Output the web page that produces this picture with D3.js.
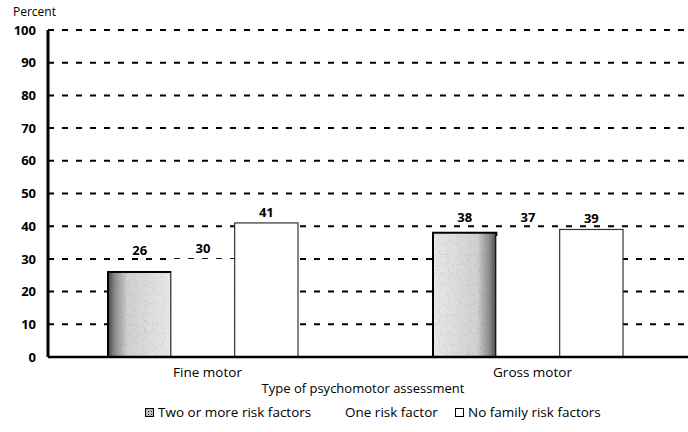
<!DOCTYPE html>
<html><head><meta charset="utf-8">
<script src="https://cdn.jsdelivr.net/npm/d3@7"></script>
<style>body{margin:0;background:#fff}svg{display:block}</style>
</head><body><svg id="c" width="688" height="432"></svg>
<script>
const categories = ["Fine motor", "Gross motor"];
const seriesNames = ["Two or more risk factors", "One risk factor", "No family risk factors"];
const twoOrMore = [26, 38];
const oneRisk = [30, 37];
const noFamily = [41, 39];
const yTicks = [0, 10, 20, 30, 40, 50, 60, 70, 80, 90, 100];
const yLabel = "Percent";
const xTitle = "Type of psychomotor assessment";

const svg = d3.select("#c");
const font = "'Open Sans', sans-serif";
const defs = svg.append("defs");
function grad(id, dir) {
  const g = defs.append("linearGradient").attr("id", id).attr("x1", dir ? "100%" : "0%").attr("x2", dir ? "0%" : "100%").attr("y1", "0%").attr("y2", "0%");
  g.append("stop").attr("offset", "0%").attr("stop-color", "#444");
  g.append("stop").attr("offset", "10%").attr("stop-color", "#888");
  g.append("stop").attr("offset", "30%").attr("stop-color", "#d0d0d0");
  g.append("stop").attr("offset", "100%").attr("stop-color", "#e8e8e8");
}
grad("g0", false); grad("g1", true);
const filt = defs.append("filter").attr("id", "noise").attr("x", 0).attr("y", 0).attr("width", "100%").attr("height", "100%");
filt.append("feTurbulence").attr("type", "fractalNoise").attr("baseFrequency", 0.9).attr("numOctaves", 1).attr("seed", 3).attr("result", "n");
filt.append("feColorMatrix").attr("in", "n").attr("type", "matrix")
  .attr("values", "0 0 0 0 0  0 0 0 0 0  0 0 0 0 0  0 0 0 2.2 -1.3");
filt.append("feComposite").attr("in2", "SourceGraphic").attr("operator", "in");
const pat = defs.append("pattern").attr("id", "leg").attr("width", 3).attr("height", 3).attr("patternUnits", "userSpaceOnUse");
pat.append("rect").attr("width", 3).attr("height", 3).attr("fill", "#bbb");
pat.append("rect").attr("width", 1).attr("height", 1).attr("fill", "#222");

const axisX = 48, plotRight = 688;
const y = d3.scaleLinear().domain([0, 100]).range([357, 30]);
const x0 = d3.scaleBand().domain(categories).range([40, 690]);
const x1 = d3.scaleBand().domain(seriesNames).range([68, 258]);

// gridlines
const gridVals = yTicks.filter(d => d > 0);
svg.append("g").selectAll("line").data(gridVals).join("line")
  .attr("x1", axisX).attr("x2", plotRight).attr("y1", d => y(d)).attr("y2", d => y(d))
  .attr("stroke", "#000").attr("stroke-width", 2).attr("stroke-dasharray", "6,8");

// bars
const data = categories.map((c, i) => ({c, i, vals: [twoOrMore[i], oneRisk[i], noFamily[i]]}));
const groups = svg.append("g").selectAll("g").data(data).join("g")
  .attr("transform", d => `translate(${x0(d.c)},0)`);
const cells = d => d.vals.map((v, k) => ({v, k, i: d.i}));
groups.selectAll("rect.bar").data(cells).join("rect").attr("class", "bar")
  .attr("x", d => x1(seriesNames[d.k]))
  .attr("y", d => y(d.v))
  .attr("width", x1.bandwidth())
  .attr("height", d => y(0) - y(d.v))
  .attr("fill", d => d.k === 0 ? `url(#g${d.i})` : "#fff")
  .attr("stroke", d => d.k === 1 ? "none" : (d.k === 0 ? "#000" : "#333"))
  .attr("stroke-width", d => d.k === 0 ? 2 : 1.2);
groups.selectAll("rect.tex").data(d => cells(d).filter(e => e.k === 0)).join("rect").attr("class", "tex")
  .attr("x", d => x1(seriesNames[d.k]) + 1)
  .attr("y", d => y(d.v) + 1)
  .attr("width", x1.bandwidth() - 2)
  .attr("height", d => y(0) - y(d.v) - 2)
  .attr("fill", "#555").attr("opacity", 0.35).attr("filter", "url(#noise)");

// value labels: placed above the bar, lifted above a gridline if they would sit on it
function labelY(v) {
  let b = y(v) - 6;
  gridVals.forEach(g => { const gy = y(g); if (gy > b - 11 && gy < b + 2) b = Math.min(b, gy - 4); });
  return b;
}
groups.selectAll("text").data(cells).join("text")
  .attr("x", d => x1(seriesNames[d.k]) + x1.bandwidth() / 2)
  .attr("y", d => labelY(d.v))
  .attr("text-anchor", "middle").attr("font-family", font).attr("font-size", 13).attr("font-weight", "bold")
  .text(d => d.v);

// axes
svg.append("line").attr("x1", axisX).attr("x2", plotRight).attr("y1", y(0)).attr("y2", y(0)).attr("stroke", "#000").attr("stroke-width", 2.5);
const yAxis = svg.append("g").attr("transform", `translate(${axisX},0)`)
  .call(d3.axisLeft(y).tickValues(yTicks).tickSize(0).tickPadding(12));
yAxis.select(".domain").attr("stroke-width", 3).attr("d", `M0,${y(100)}V${y(0)}`);
yAxis.selectAll("text").attr("font-family", font).attr("font-size", 13).attr("font-weight", "bold").attr("fill", "#000");
svg.append("text").attr("x", 13).attr("y", 16).attr("font-family", font).attr("font-size", 12).text(yLabel);

// category labels
svg.append("g").selectAll("text").data(categories).join("text")
  .attr("x", d => x0(d) + x0.bandwidth() / 2 + 5).attr("y", 377)
  .attr("text-anchor", "middle").attr("font-family", font).attr("font-size", 13.5).text(d => d);
svg.append("text").attr("x", 363).attr("y", 393).attr("text-anchor", "middle")
  .attr("font-family", font).attr("font-size", 13).text(xTitle);

// legend
const legX = [145, 345, 455];
const leg = svg.append("g").selectAll("g").data(seriesNames).join("g")
  .attr("transform", (d, i) => `translate(${legX[i]},417)`);
leg.filter((d, i) => i !== 1).append("rect").attr("x", 0.5).attr("y", -8.5).attr("width", 8).attr("height", 8)
  .attr("fill", (d, i) => i === 0 ? "url(#leg)" : "#fff").attr("stroke", "#000").attr("stroke-width", 1);
leg.append("text").attr("x", (d, i) => i === 1 ? 0 : 13).attr("y", 0)
  .attr("font-family", font).attr("font-size", 13.5).text(d => d);
</script></body></html>
